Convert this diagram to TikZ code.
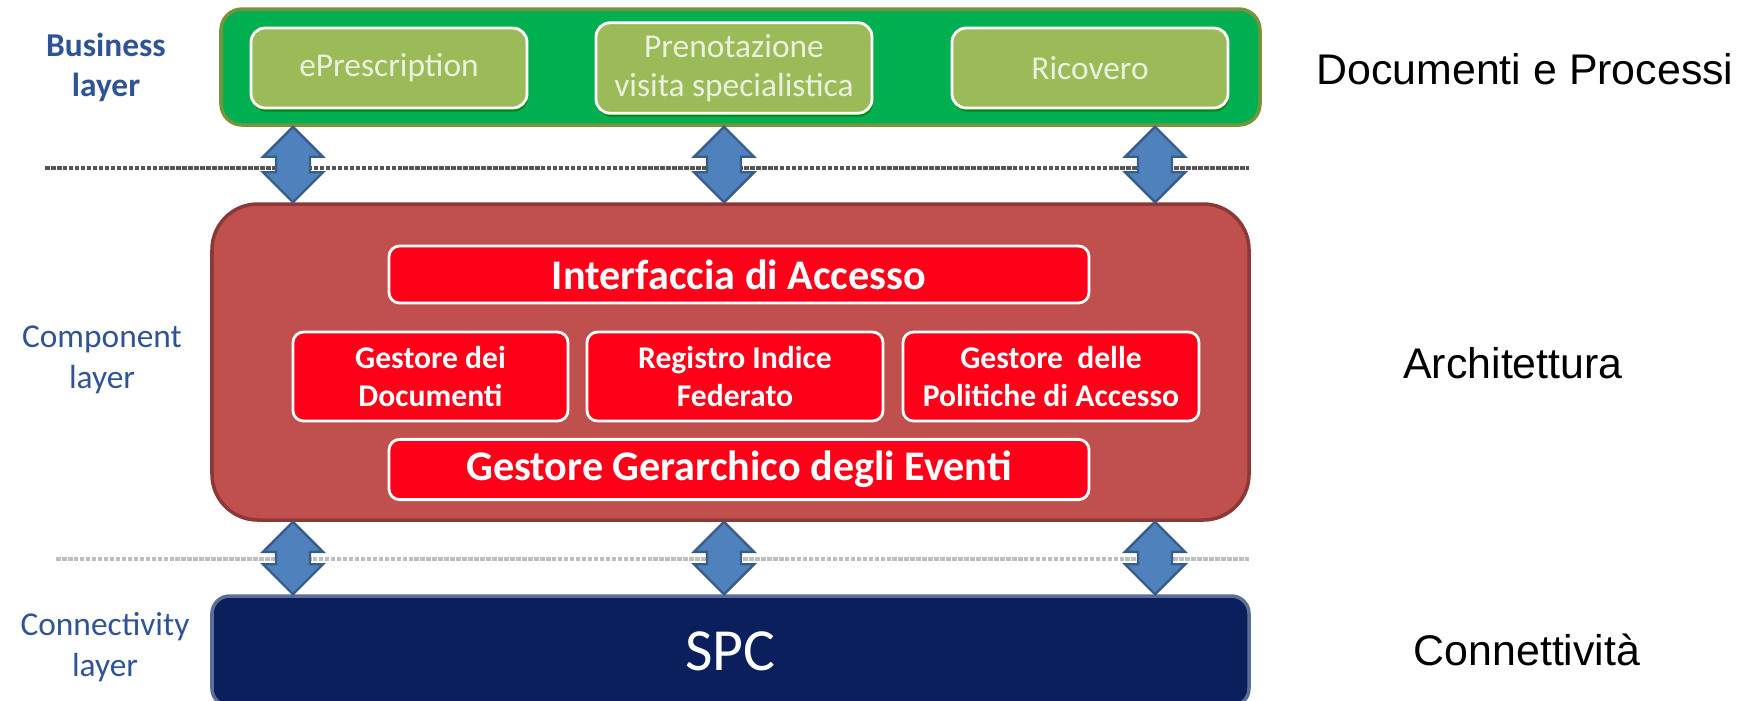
\documentclass[tikz,border=0pt]{standalone}
\usepackage{fontspec}
\setmainfont{Carlito}
\newfontfamily\arialfont{Liberation Sans}
\usetikzlibrary{calc,shadows}

\definecolor{bizgreen}{RGB}{0,176,80}
\definecolor{bizborder}{RGB}{119,147,60}
\definecolor{procgreen}{RGB}{155,187,89}
\definecolor{proctext}{RGB}{235,241,222}
\definecolor{compred}{RGB}{192,80,77}
\definecolor{compborder}{RGB}{140,56,54}
\definecolor{modred}{RGB}{255,0,25}
\definecolor{spcblue}{RGB}{10,31,92}
\definecolor{spcborder}{RGB}{90,110,150}
\definecolor{arrowblue}{RGB}{79,129,189}
\definecolor{arrowborder}{RGB}{56,93,138}
\definecolor{layerblue}{RGB}{47,84,150}

\tikzset{
  layerbox/.style={rectangle, line width=1pt},
  procbox/.style={rectangle, rounded corners=4pt, draw=white, line width=0.8pt,
    fill=procgreen, text=proctext, minimum width=2.76cm, minimum height=0.8cm,
    align=center, font=\fontsize{9.5}{11}\selectfont,
    drop shadow={shadow xshift=0.3pt, shadow yshift=-1pt, fill=black!50!green, opacity=0.8}},
  modbox/.style={rectangle, rounded corners=3pt, draw=white, line width=0.8pt,
    fill=modred, text=white, align=center, font=\bfseries\fontsize{9}{10.8}\selectfont},
  bigmod/.style={modbox, minimum width=7cm, minimum height=0.57cm,
    font=\bfseries\fontsize{12}{14}\selectfont},
  smallmod/.style={modbox, minimum height=0.89cm},
  layerlabel/.style={text=layerblue, align=center, font=\fontsize{9.5}{11.8}\selectfont},
  viewlabel/.style={font=\arialfont\fontsize{12.2}{14}\selectfont},
  sepline/.style={line width=0.9pt, dash pattern=on 1.3pt off 0.4pt},
  blockarrow/.style={fill=arrowblue, draw=arrowborder, line width=0.7pt, line join=miter},
}

% vertical double block arrow between two points
\newcommand{\layerarrow}[2]{%
  \path[blockarrow] let \p1=(#1), \p2=(#2) in
    (\x1,\y1) -- (\x1+0.3cm,\y1-0.3cm) -- (\x1+0.17cm,\y1-0.3cm)
    -- (\x1+0.17cm,\y2+0.3cm) -- (\x1+0.3cm,\y2+0.3cm) -- (\x1,\y2)
    -- (\x1-0.3cm,\y2+0.3cm) -- (\x1-0.17cm,\y2+0.3cm)
    -- (\x1-0.17cm,\y1-0.3cm) -- (\x1-0.3cm,\y1-0.3cm) -- cycle;}

\begin{document}
\begin{tikzpicture}
    \clip (0,0) rectangle (17.52,7);
    % Separators
    \draw[sepline, draw={rgb,255:red,85;green,85;blue,85}] (0.45,5.32) -- (12.49,5.32);
    \draw[sepline, draw={rgb,255:red,190;green,190;blue,190}] (0.56,1.41) -- (12.49,1.41);
    % Business layer
    \node[layerbox, draw=bizborder, fill=bizgreen, rounded corners=6pt,
      minimum width=10.39cm, minimum height=1.16cm] (biz) at (7.405,6.33) {};
    \node[procbox] (epres) at (3.89,6.32) {ePrescription};
    \node[procbox] (preno) at (7.34,6.32) {Prenotazione\\visita specialistica};
    \node[procbox] (ricov) at (10.90,6.32) {Ricovero};
    % Component layer
    \node[layerbox, draw=compborder, fill=compred, rounded corners=13pt,
      minimum width=10.37cm, minimum height=3.16cm] (comp) at (7.305,3.38) {};
    \node[bigmod] (iface) at (7.39,4.255) {Interfaccia di Accesso};
    \node[smallmod, minimum width=2.75cm] (docs) at (4.305,3.235) {Gestore dei\\Documenti};
    \node[smallmod, minimum width=2.96cm] (reg) at (7.35,3.235) {Registro Indice\\Federato};
    \node[smallmod, minimum width=2.96cm] (pol) at (10.51,3.235) {Gestore\ \ delle\\Politiche di Accesso};
    \node[bigmod] (events) at (7.39,2.305) {Gestore Gerarchico degli Eventi};
    % Connectivity layer
    \node[layerbox, draw=spcborder, fill=spcblue, rounded corners=5pt, text=white,
      minimum width=10.37cm, minimum height=1.1cm, font=\fontsize{17}{20}\selectfont] (spc) at (7.305,0.49) {SPC};
    % Arrows
    \foreach \ax in {2.93,7.24,11.55} {
      \coordinate (ax) at (\ax,0);
      \layerarrow{biz.south -| ax}{comp.north -| ax}
      \layerarrow{comp.south -| ax}{spc.north -| ax}
    }
    % Layer names
    \node[layerlabel, font=\bfseries\fontsize{9.5}{11.4}\selectfont] (bizlbl) at (1.06,6.33) {Business\\layer};
    \node[layerlabel] (complbl) at (1.02,3.40) {Component\\layer};
    \node[layerlabel] (connlbl) at (1.05,0.53) {Connectivity\\layer};
    % Views
    \node[viewlabel] (docproc) at (15.25,6.31) {Documenti e Processi};
    \node[viewlabel] (arch) at (15.13,3.37) {Architettura};
    \node[viewlabel] (conn) at (15.27,0.50) {Connettività};
\end{tikzpicture}
\end{document}
